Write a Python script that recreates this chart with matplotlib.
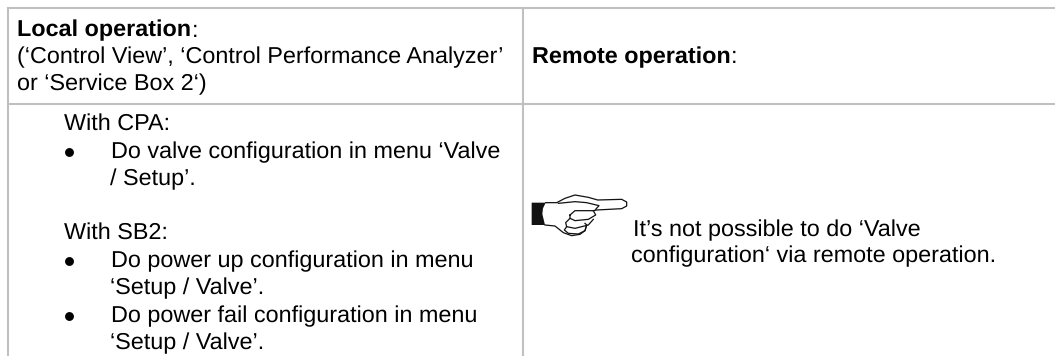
import matplotlib
matplotlib.use('Agg')
import matplotlib.pyplot as plt

plt.rcParams['font.family'] = ['Liberation Sans', 'DejaVu Sans']
plt.rcParams['text.hinting'] = 'none'

# Table text
HEAD_LEFT = 'Local operation'
HEAD_LEFT_NOTE = ['(‘Control View’, ‘Control Performance Analyzer’', 'or ‘Service Box 2‘)']
HEAD_RIGHT = 'Remote operation'
SECTION_TITLES = ['With CPA:', 'With SB2:']
BULLET_LINES = [
    ['Do valve configuration in menu ‘Valve', '/ Setup’.'],
    ['Do power up configuration in menu', '‘Setup / Valve’.'],
    ['Do power fail configuration in menu', '‘Setup / Valve’.'],
]
NOTE_LINES = ['It’s not possible to do ‘Valve', 'configuration‘ via remote operation.']

GREY = '#c0c0c0'
TEXT = '#000000'
FS = 16.8


def px(x, y):
    return x / 3 + 525, y / 3 + 190


def main():
    fig = plt.figure(figsize=(10.55, 3.56), dpi=100)
    ax = fig.add_axes([0, 0, 1, 1])
    ax.set_xlim(0, 1055)
    ax.set_ylim(356, 0)
    ax.axis('off')

    # grid lines
    for y in (8, 104):
        ax.plot([7, 1055], [y, y], color=GREY, lw=1.5, solid_capstyle='butt')
    for x in (8, 522.7):
        ax.plot([x, x], [7, 356], color=GREY, lw=1.5, solid_capstyle='butt')

    def put(x, y, s, **kw):
        return ax.text(x, y, s, fontsize=FS, color=TEXT, va='baseline', **kw)

    # header row
    renderer = fig.canvas.get_renderer()
    for x, y, s in ((17.3, 36.7, HEAD_LEFT), (532, 63.3, HEAD_RIGHT)):
        t = put(x, y, s, fontweight='bold')
        end = t.get_window_extent(renderer).x1
        put(end, y, ':')
    put(17.3, 63.3, HEAD_LEFT_NOTE[0])
    put(17.3, 90.7, HEAD_LEFT_NOTE[1])

    # left column body
    put(64, 130, SECTION_TITLES[0])
    put(64, 238.7, SECTION_TITLES[1])
    bullet_y = [158, 267.7, 322.7]
    for y, lines in zip(bullet_y, BULLET_LINES):
        ax.plot([68.7], [y - 6.5], 'o', color=TEXT, ms=6.4, mew=0)
        put(110.7, y, lines[0])
        put(110, y + 26.8, lines[1])

    # right column note
    put(632.6, 236, NOTE_LINES[0])
    put(631, 262, NOTE_LINES[1])

    # pointing hand icon
    cuff = [(20, 38), (62, 38), (54, 55), (52, 72), (60, 105), (20, 105)]
    ax.fill(*zip(*[px(*p) for p in cuff]), color='#111111', lw=0)
    outlines = [
        [(62, 38), (95, 38), (120, 25), (150, 15), (190, 22), (218, 30), (290, 28),
         (305, 36), (305, 48), (290, 56), (215, 60), (205, 62)],
        [(60, 105), (90, 108), (115, 128), (140, 137), (165, 133), (180, 122), (185, 105)],
        [(100, 40), (150, 35), (185, 38), (222, 47), (212, 58)],
        [(135, 75), (150, 62), (205, 62), (212, 75), (190, 88), (150, 92), (135, 85), (135, 75)],
        [(135, 85), (122, 98), (125, 110), (150, 115), (190, 105), (205, 88)],
        [(125, 110), (118, 120), (130, 130), (160, 132), (180, 122), (185, 105), (180, 100)],
    ]
    for line in outlines:
        xs, ys = zip(*[px(*p) for p in line])
        ax.plot(xs, ys, color='#111111', lw=0.9, solid_joinstyle='round')

    plt.savefig('out.png', dpi=100)


if __name__ == "__main__":
    main()
